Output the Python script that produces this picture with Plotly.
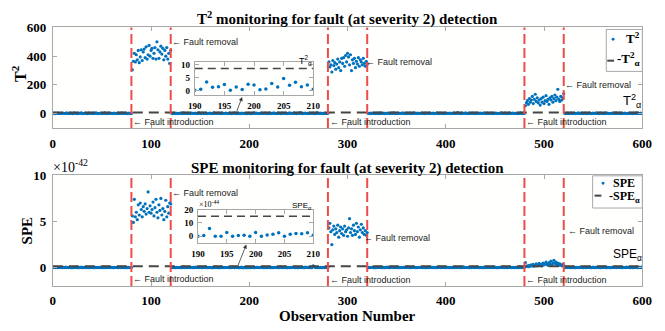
import numpy as np
import plotly.graph_objects as go

W, H = 665, 331

# ---------------- data ----------------
fault_start = [80, 280, 480]
fault_end = [120, 320, 520]

# T^2 statistic
t2_normal_a = [1.2, 3.4, 0.8, 2.1, 4.6, 1.7, 0.5, 2.9, 1.1, 3.8, 2.4, 0.9, 1.6, 5.2, 2.2, 0.7, 3.1, 1.4, 2.6, 0.4,
               1.9, 4.1, 2.8, 1.0, 0.6, 3.5, 1.8, 2.3, 6.1, 1.3, 0.8, 2.7, 3.9, 1.5, 0.3, 2.0, 4.4, 1.1, 2.5, 1.7,
               0.9, 3.2, 2.1, 5.0, 1.4, 0.6, 2.8, 1.9, 3.6, 0.7, 2.4, 1.2, 4.8, 2.0, 0.5, 1.6, 3.3, 2.2, 1.0, 2.9,
               0.8, 4.0, 1.5, 2.6, 0.4, 3.7, 1.8, 2.3, 1.1, 5.5, 2.0, 0.9, 3.0, 1.3, 2.5, 0.6, 3.4, 1.7, 2.2, 1.4]
t2_fault_1 = [305, 365, 420, 360, 410, 375, 440, 355, 395, 445, 370, 430, 450, 390, 465, 380, 410, 475, 400, 440,
              455, 385, 420, 460, 380, 500, 445, 385, 430, 470, 415, 455, 375, 440, 400, 460, 380, 420, 350, 440]
t2_normal_b1 = [2.3, 0.7, 3.6, 1.2, 4.2, 1.9, 0.5, 2.8, 1.4, 3.1, 2.0, 0.8, 5.4, 1.6, 2.5, 0.9, 3.8, 1.3, 2.2, 0.6,
                4.5, 1.8, 2.7, 1.0, 3.3, 0.4, 2.1, 1.5, 6.3, 2.4, 0.8, 3.0, 1.7, 2.6, 1.1, 4.0, 0.7, 2.9, 1.9, 3.5,
                1.2, 0.5, 2.3, 4.7, 1.6, 2.0, 0.9, 3.2, 1.4, 2.8, 0.6, 3.9, 1.8, 2.5, 1.0, 4.3, 2.2, 0.7, 1.5, 3.4,
                2.1, 0.8, 2.7, 1.3, 5.1, 1.9, 0.6, 2.4, 3.0]
t2_zoom = [0.2, 0.6, 3.4, 1.4, 1.6, 2.4, 0.2, 1.5, 0.5, 2.5, 2.2, 0.4, 0.7, 2.8, 1.5, 4.7, 2.1, 3.3, 1.6, 2.2, 0.6]
t2_normal_b2 = [1.8, 3.6, 0.9, 2.3, 1.2, 4.4, 2.0, 0.7, 2.9, 1.5, 3.1, 0.5, 2.6, 1.7, 5.8, 1.1, 2.4, 0.8, 3.7, 1.9,
                2.2, 0.6, 4.1, 1.4, 2.7, 1.0, 3.3, 1.6, 0.4, 2.5, 4.9, 1.3, 2.1, 0.9, 3.0, 1.8, 2.8, 0.7, 3.5, 1.2,
                2.3, 6.6, 1.5, 0.8, 2.9, 1.7, 3.8, 1.0, 2.4, 0.5, 4.2, 1.9, 2.6, 1.1, 3.2, 0.6, 2.0, 1.4, 5.3, 2.2,
                0.9, 3.4, 1.6, 2.7, 0.8, 4.0, 1.3, 2.5, 1.8, 3.1]
t2_fault_2 = [360, 325, 340, 290, 370, 335, 355, 310, 345, 380, 320, 360, 300, 385, 350, 390, 330, 405, 360, 420,
              395, 340, 410, 300, 375, 350, 385, 320, 365, 345, 390, 330, 375, 360, 340, 385, 350, 330, 365, 345]
t2_normal_c = [1.5, 2.8, 0.6, 3.9, 1.2, 2.3, 4.6, 0.9, 1.8, 3.2, 2.0, 0.7, 5.0, 1.6, 2.5, 1.1, 3.6, 0.4, 2.2, 1.4,
               4.3, 2.7, 0.8, 1.9, 3.0, 1.3, 6.0, 2.1, 0.5, 2.9, 1.7, 3.4, 1.0, 2.4, 0.9, 4.8, 1.5, 2.6, 0.7, 3.1,
               1.8, 2.2, 1.2, 3.7, 0.6, 2.8, 1.6, 5.2, 2.0, 0.8, 3.3, 1.4, 2.5, 1.0, 4.1, 1.9, 2.3, 0.5, 3.6, 1.3,
               2.7, 0.9, 4.5, 1.7, 2.1, 1.1, 3.0, 0.6, 2.4, 1.5, 5.7, 2.0, 0.8, 3.4, 1.2, 2.6, 1.8, 0.4, 3.9, 2.2,
               1.0, 2.9, 1.6, 4.2, 0.7, 2.3, 1.4, 3.5, 1.9, 0.9, 2.5, 6.4, 1.2, 2.8, 0.6, 3.2, 1.7, 2.1, 1.1, 4.7,
               2.4, 0.8, 3.0, 1.5, 2.6, 1.0, 3.8, 1.3, 2.2, 0.5, 4.4, 1.8, 2.7, 0.9, 3.1, 1.6, 2.0, 1.2, 5.1, 2.3,
               0.7, 3.6, 1.4, 2.5, 1.1, 4.0, 1.9, 0.6, 2.9, 1.5, 3.3, 2.1, 0.8, 2.4, 1.3, 4.9, 1.7, 2.8, 1.0, 3.5,
               1.8, 0.5, 2.6, 1.2, 3.0, 2.2, 0.9, 4.3, 1.6, 2.0, 1.1, 3.4, 0.7, 2.5, 1.4, 5.6, 2.3, 0.8, 3.1, 1.9]
t2_fault_3 = [55, 75, 90, 65, 105, 80, 95, 120, 70, 100, 135, 85, 110, 75, 95, 60, 105, 80, 115, 70,
              90, 125, 85, 100, 65, 110, 95, 120, 80, 105, 130, 90, 115, 170, 100, 85, 120, 95, 110, 140]
t2_normal_d = [2.1, 0.8, 3.5, 1.4, 2.7, 0.5, 4.2, 1.9, 2.3, 1.1, 3.8, 0.7, 2.6, 1.5, 5.3, 2.0, 0.9, 3.1, 1.3, 2.4,
               1.7, 4.6, 0.6, 2.8, 1.2, 3.3, 2.2, 0.4, 1.8, 3.9, 1.0, 2.5, 6.2, 1.4, 2.1, 0.8, 3.6, 1.6, 2.9, 1.1,
               0.7, 3.0, 1.9, 4.4, 1.3, 2.3, 0.5, 2.7, 1.5, 3.4, 2.0, 0.9, 4.9, 1.7, 2.4, 1.2, 3.2, 0.6, 2.6, 1.8,
               1.0, 3.7, 2.2, 0.8, 2.9, 1.4, 4.1, 1.6, 2.5, 0.7, 3.5, 1.1, 2.0, 5.0, 1.3, 2.8, 0.9, 3.3, 1.7, 2.2]
t2_limit = 8.5

# SPE statistic: normal parts in units of 1e-44, fault parts in units of 1e-42
spe_normal_a_e44 = [0.4, 1.8, 0.0, 2.6, 0.9, 0.2, 3.4, 0.6, 1.3, 0.0, 2.1, 0.8, 4.7, 0.3, 1.5, 0.1, 2.9, 0.5, 1.1, 0.0,
                    3.8, 0.7, 1.9, 0.2, 0.9, 2.4, 0.0, 1.4, 5.2, 0.6, 0.3, 2.2, 1.0, 0.1, 3.1, 0.8, 1.6, 0.0, 2.7, 0.4,
                    1.2, 0.0, 4.1, 0.9, 1.7, 0.3, 2.5, 0.6, 0.1, 3.3, 1.1, 0.5, 2.0, 0.0, 1.4, 6.0, 0.7, 1.8, 0.2, 2.8,
                    0.9, 0.0, 3.6, 1.3, 0.4, 2.3, 0.8, 1.5, 0.1, 4.4, 0.6, 1.9, 0.0, 2.6, 1.0, 0.3, 3.0, 0.7, 1.2, 0.5]
spe_fault_1_e42 = [5.6, 4.9, 7.4, 5.5, 6.0, 5.2, 6.8, 5.7, 7.0, 6.3, 5.5, 6.6, 6.1, 6.9, 5.8, 6.4, 8.2, 6.0, 6.7, 5.9,
                   6.3, 7.1, 5.6, 6.5, 7.4, 6.0, 5.4, 6.8, 6.2, 7.5, 5.7, 6.4, 5.2, 6.1, 7.3, 5.5, 6.6, 5.9, 7.0, 6.9]
spe_normal_b1_e44 = [1.6, 0.2, 2.8, 0.7, 0.0, 3.5, 1.1, 0.4, 2.2, 0.9, 0.0, 4.3, 1.5, 0.6, 2.6, 0.1, 1.8, 0.8, 3.9, 0.3,
                     1.2, 0.0, 2.4, 0.7, 5.1, 1.4, 0.2, 1.9, 0.5, 3.2, 0.9, 0.0, 2.1, 1.3, 0.4, 4.6, 0.6, 1.7, 0.1, 2.9,
                     0.8, 1.0, 0.0, 3.4, 1.6, 0.3, 2.3, 0.7, 1.1, 0.0, 4.0, 0.5, 2.0, 0.9, 0.2, 3.0, 1.4, 0.6, 1.8, 0.0,
                     2.5, 0.8, 5.6, 1.2, 0.3, 2.1, 0.7, 1.5, 0.1]
spe_zoom_e44 = [0.0, 0.5, 5.8, 0.0, 0.0, 2.8, 0.0, 0.5, 0.7, 0.0, 2.8, 0.0, 0.9, 1.4, 2.6, 0.0, 1.4, 2.1, 1.9, 2.6, 0.7]
spe_normal_b2_e44 = [1.3, 0.2, 3.1, 0.8, 0.0, 2.4, 1.0, 0.4, 4.2, 0.6, 1.7, 0.0, 2.7, 0.9, 0.3, 3.6, 1.2, 0.5, 2.0, 0.0,
                     1.5, 4.9, 0.7, 1.9, 0.1, 2.6, 0.8, 1.1, 0.0, 3.3, 0.6, 2.2, 0.4, 1.4, 5.4, 0.9, 0.2, 2.8, 1.0, 0.0,
                     3.7, 1.6, 0.5, 2.3, 0.8, 0.0, 4.5, 1.2, 0.3, 2.1, 0.7, 1.8, 0.0, 3.0, 18.0, 9.5, 2.5, 0.9, 0.2, 3.9,
                     1.1, 0.6, 2.0, 0.0, 1.5, 4.1, 0.8, 0.3, 2.7, 1.0]
spe_fault_2_e42 = [4.3, 4.8, 3.9, 2.5, 4.1, 4.5, 3.6, 4.2, 3.8, 4.6, 3.3, 4.0, 4.4, 3.7, 4.2, 3.5, 4.5, 3.9, 4.1, 3.4,
                   4.3, 5.3, 3.8, 4.2, 3.5, 4.6, 4.0, 3.6, 4.8, 3.9, 4.4, 3.3, 4.1, 4.7, 3.8, 4.3, 3.6, 4.0, 3.5, 3.8]
spe_normal_c_e44 = [0.7, 2.3, 0.1, 1.6, 3.8, 0.4, 1.1, 0.0, 2.9, 0.8, 4.4, 1.3, 0.2, 2.0, 0.6, 3.3, 1.0, 0.0, 1.8, 5.0,
                    0.5, 2.5, 0.9, 0.1, 3.6, 1.4, 0.3, 2.2, 0.7, 4.8, 1.2, 0.0, 2.7, 0.6, 1.9, 0.2, 3.1, 1.5, 0.4, 2.4,
                    6.2, 0.8, 1.3, 0.0, 2.9, 0.5, 1.7, 3.5, 0.2, 1.0, 0.7, 4.0, 1.6, 0.1, 2.2, 0.9, 3.2, 0.3, 1.4, 0.0,
                    2.6, 1.1, 0.6, 4.6, 1.8, 0.2, 2.1, 0.8, 3.4, 0.0, 1.2, 0.5, 2.8, 1.5, 0.3, 5.3, 0.9, 1.9, 0.1, 2.4,
                    0.7, 3.7, 1.0, 0.4, 2.0, 0.0, 1.6, 4.3, 0.8, 2.6, 0.2, 1.3, 3.0, 0.6, 1.8, 0.0, 2.3, 7.5, 0.9, 1.4,
                    0.3, 3.1, 1.1, 0.5, 2.5, 0.0, 4.1, 1.7, 0.7, 2.0, 0.2, 3.5, 1.2, 0.4, 2.8, 0.9, 1.5, 0.0, 5.7, 1.0,
                    0.6, 2.2, 0.1, 3.3, 1.4, 0.8, 2.7, 0.3, 1.9, 4.5, 0.5, 1.1, 0.0, 2.4, 0.9, 3.8, 1.6, 0.2, 2.1, 0.7,
                    1.3, 0.0, 3.0, 0.6, 4.9, 1.8, 0.4, 2.6, 1.0, 0.1, 3.4, 0.8, 1.5, 0.0, 2.2, 6.5, 0.7, 1.2, 0.3, 2.9]
spe_fault_3_e42 = [0.55, 0.15, 0.2, 0.1, 0.25, 0.15, 0.3, 0.2, 0.35, 0.15, 0.25, 0.4, 0.2, 0.3, 0.45, 0.25, 0.35, 0.2, 0.5, 0.3,
                   0.4, 0.6, 0.35, 0.25, 0.55, 0.4, 0.7, 0.3, 0.5, 0.8, 0.45, 0.6, 0.35, 0.5, 0.25, 0.4, 0.3, 0.2, 0.35, 0.25]
spe_normal_d_e44 = [1.4, 0.2, 3.0, 0.8, 1.9, 0.0, 4.2, 1.1, 0.5, 2.5, 0.9, 0.1, 3.6, 1.6, 0.4, 2.2, 5.5, 0.7, 1.3, 0.0,
                    2.8, 1.0, 0.3, 3.9, 1.5, 0.6, 2.0, 0.0, 1.2, 4.7, 0.8, 2.4, 0.2, 1.7, 3.2, 0.5, 1.1, 0.0, 2.6, 0.9,
                    6.1, 1.4, 0.3, 2.1, 0.7, 3.5, 1.0, 0.0, 1.8, 2.9, 0.4, 1.3, 4.0, 0.6, 2.3, 0.1, 1.6, 3.1, 0.8, 0.0,
                    2.7, 1.2, 0.5, 4.8, 1.9, 0.2, 2.0, 0.9, 3.3, 0.0, 1.5, 0.7, 2.4, 5.0, 1.0, 0.3, 2.8, 0.6, 1.7, 9.0]
spe_limit_e44 = 15.0

x_ticks = [0, 100, 200, 300, 400, 500, 600]
t2_ticks = [0, 200, 400, 600]
spe_ticks = [0, 5, 10]
zoom_x_ticks = [190, 195, 200, 205, 210]
t2_zoom_ticks = [0, 5, 10]
spe_zoom_ticks = [0, 10, 20]

# ---------------- assemble ----------------
obs = np.arange(1, 601)
t2 = np.array(t2_normal_a + t2_fault_1 + t2_normal_b1 + t2_zoom + t2_normal_b2 +
              t2_fault_2 + t2_normal_c + t2_fault_3 + t2_normal_d, dtype=float)
spe = np.concatenate([
    np.array(spe_normal_a_e44) / 100, spe_fault_1_e42,
    np.array(spe_normal_b1_e44) / 100, np.array(spe_zoom_e44) / 100, np.array(spe_normal_b2_e44) / 100,
    spe_fault_2_e42, np.array(spe_normal_c_e44) / 100, spe_fault_3_e42, np.array(spe_normal_d_e44) / 100])
assert len(t2) == 600, len(t2)
assert len(spe) == 600, len(spe)
zmask = (obs >= 190) & (obs <= 210)

BLUE = '#0072BD'
LIMC = '#454545'
REDC = '#F04A4A'
FRAME = '#A8A8A8'
SERIF = 'Liberation Serif'
SANS = 'Liberation Sans'


def px(x):
    return x / W


def py(y):
    return 1 - y / H


fig = go.Figure()
MS = 3.2
# main plots
fig.add_trace(go.Scatter(x=obs, y=t2, mode='markers', marker=dict(size=MS, color=BLUE), xaxis='x', yaxis='y'))
fig.add_trace(go.Scatter(x=[0, 600], y=[t2_limit, t2_limit], mode='lines',
                         line=dict(color=LIMC, width=2, dash='10px,6px'), xaxis='x', yaxis='y'))
fig.add_trace(go.Scatter(x=obs, y=spe, mode='markers', marker=dict(size=MS, color=BLUE), xaxis='x2', yaxis='y2'))
fig.add_trace(go.Scatter(x=[0, 600], y=[spe_limit_e44 / 100] * 2, mode='lines',
                         line=dict(color=LIMC, width=2, dash='10px,6px'), xaxis='x2', yaxis='y2'))
# insets
fig.add_trace(go.Scatter(x=obs[zmask], y=t2[zmask], mode='markers', marker=dict(size=3.5, color=BLUE),
                         xaxis='x3', yaxis='y3'))
fig.add_trace(go.Scatter(x=[190, 210], y=[t2_limit, t2_limit], mode='lines',
                         line=dict(color=LIMC, width=1.5, dash='8px,5px'), xaxis='x3', yaxis='y3'))
fig.add_trace(go.Scatter(x=obs[zmask], y=spe[zmask] * 100, mode='markers', marker=dict(size=3.5, color=BLUE),
                         xaxis='x4', yaxis='y4'))
fig.add_trace(go.Scatter(x=[190, 210], y=[spe_limit_e44] * 2, mode='lines',
                         line=dict(color=LIMC, width=1.5, dash='8px,5px'), xaxis='x4', yaxis='y4'))

main_tick = dict(family=SERIF, size=13, color='#000', weight='bold')
inset_tick = dict(family=SERIF, size=9, color='#000', weight='bold')


def ax(domain, rng, tickvals, anchor, font, standoff=2):
    return dict(domain=domain, range=rng, anchor=anchor, tickvals=tickvals, showgrid=False, zeroline=False,
                showline=True, linecolor=FRAME, linewidth=1, mirror='ticks', ticks='inside', ticklen=4,
                tickcolor=FRAME, tickfont=font, ticklabelstandoff=standoff, fixedrange=True)


fig.update_layout(
    width=W, height=H, margin=dict(l=0, r=0, t=0, b=0), autosize=False,
    paper_bgcolor='white', plot_bgcolor='#fffffe', showlegend=False,
    xaxis=ax([px(47), px(652)], [0, 600], x_ticks, 'y', main_tick, 3),
    yaxis=ax([py(124), py(21)], [-100, 600], t2_ticks, 'x', main_tick, 3),
    xaxis2=ax([px(47), px(652)], [0, 600], x_ticks, 'y2', main_tick, 2),
    yaxis2=ax([py(286), py(172.5)], [-2, 10], spe_ticks, 'x2', main_tick, 3),
    xaxis3=ax([px(192.7), px(314.3)], [190, 210], zoom_x_ticks, 'y3', inset_tick, 2),
    yaxis3=ax([py(90), py(56.7)], [-1.5, 10.85], t2_zoom_ticks, 'x3', inset_tick, 2),
    xaxis4=ax([px(196), px(314.3)], [190, 210], zoom_x_ticks, 'y4', inset_tick, 2),
    yaxis4=ax([py(241.7), py(207.7)], [-5, 20], spe_zoom_ticks, 'x4', inset_tick, 2),
)

shapes = []
for xs in fault_start + fault_end:
    for xr, yref in [('x', 'y domain'), ('x2', 'y2 domain')]:
        shapes.append(dict(type='line', xref=xr, yref=yref,
                           x0=xs, x1=xs, y0=0, y1=1, line=dict(color=REDC, width=2, dash='10px,4px')))

# legends (drawn manually)
shapes += [
    dict(type='rect', xref='paper', yref='paper', x0=px(615), x1=px(652), y0=py(66), y1=py(23),
         line=dict(color=FRAME, width=1), fillcolor='white', layer='above'),
    dict(type='circle', xref='paper', yref='paper', x0=px(620.5), x1=px(623.5), y0=py(34.5), y1=py(31.5),
         line=dict(width=0), fillcolor=BLUE),
    dict(type='line', xref='paper', yref='paper', x0=px(616), x1=px(623), y0=py(55), y1=py(55),
         line=dict(color=LIMC, width=2)),
    dict(type='rect', xref='paper', yref='paper', x0=px(601), x1=px(652), y0=py(206), y1=py(173),
         line=dict(color=FRAME, width=1), fillcolor='white', layer='above'),
    dict(type='circle', xref='paper', yref='paper', x0=px(610.2), x1=px(613.2), y0=py(182.2), y1=py(179.2),
         line=dict(width=0), fillcolor=BLUE),
    dict(type='line', xref='paper', yref='paper', x0=px(603), x1=px(610), y0=py(193.3), y1=py(193.3),
         line=dict(color=LIMC, width=2)),
]
fig.update_layout(shapes=shapes)

ann = []


def ptext(x, y, text, size, family=SERIF, xanchor='center', bold=False, color='#000', textangle=0):
    ann.append(dict(xref='paper', yref='paper', x=px(x), y=py(y), text=text, showarrow=False,
                    xanchor=xanchor, yanchor='middle', textangle=textangle, borderpad=0,
                    font=dict(family=family, size=size, color=color, weight='bold' if bold else 'normal')))


ptext(349.5, 12, 'T<sup>2</sup> monitoring for fault (at severity 2) detection', 15, bold=True)
ptext(349.5, 165, 'SPE monitoring for fault (at severity 2) detection', 15, bold=True)
ptext(349.5, 316.5, 'Observation Number', 15, bold=True)
ptext(13, 68, 'T<sup>2</sup>', 16, bold=True, textangle=-90)
ptext(20.5, 229, 'SPE', 15, bold=True, textangle=-90)
ptext(46, 163, '×10<sup>-42</sup>', 14, xanchor='left')
ptext(196, 202, '×10<sup>-44</sup>', 8, xanchor='left')
# legends text
ptext(651, 32, 'T<sup>2</sup>', 13, xanchor='right', bold=True)
ptext(651, 53, '-T<sup>2</sup><sub>α</sub>', 13, xanchor='right', bold=True)
ptext(645, 180, 'SPE', 12, xanchor='right', bold=True)
ptext(651, 195, '-SPE<sub>α</sub>', 12, xanchor='right', bold=True)
# limit labels
ptext(652, 96, 'T<sup>2</sup><sub>α</sub>', 13, family=SANS, xanchor='right')
ptext(653, 254, 'SPE<sub>α</sub>', 12, family=SANS, xanchor='right')
ptext(314, 55, 'T<sup>2</sup><sub>α</sub>', 9, family=SANS, xanchor='right')
ptext(314, 204, 'SPE<sub>α</sub>', 8, family=SANS, xanchor='right')


def dtext(xr, yr, x, y, text):
    ann.append(dict(xref=xr, yref=yr, x=x, y=y, text=text, showarrow=False, xanchor='left', yanchor='middle',
                    borderpad=0, font=dict(family=SANS, size=9, color='#222')))


dtext('x', 'y', 120, 499, '← Fault removal')
dtext('x', 'y', 81, -57, '← Fault introduction')
dtext('x', 'y', 318, 358, '← Fault removal')
dtext('x', 'y', 281, -60, '← Fault introduction')
dtext('x', 'y', 520, 200, '← Fault removal')
dtext('x', 'y', 481, -55, '← Fault introduction')
dtext('x2', 'y2', 120, 8.1, '← Fault removal')
dtext('x2', 'y2', 81, -1.25, '← Fault introduction')
dtext('x2', 'y2', 316, 3.2, '← Fault removal')
dtext('x2', 'y2', 281, -1.3, '← Fault introduction')
dtext('x2', 'y2', 523, 4.0, '← Fault removal')
dtext('x2', 'y2', 481, -1.3, '← Fault introduction')

# arrows pointing from the data to the zoomed insets
ann.append(dict(xref='x', yref='y', axref='x', ayref='y', x=192.7, y=116, ax=186.7, ay=7, text='',
                showarrow=True, arrowhead=2, arrowsize=1, arrowwidth=0.8, arrowcolor='#333'))
ann.append(dict(xref='x2', yref='y2', axref='x2', ayref='y2', x=197, y=2.5, ax=188, ay=0.1, text='',
                showarrow=True, arrowhead=2, arrowsize=1, arrowwidth=0.8, arrowcolor='#333'))

fig.update_layout(annotations=ann)
fig.write_html('out.html')
